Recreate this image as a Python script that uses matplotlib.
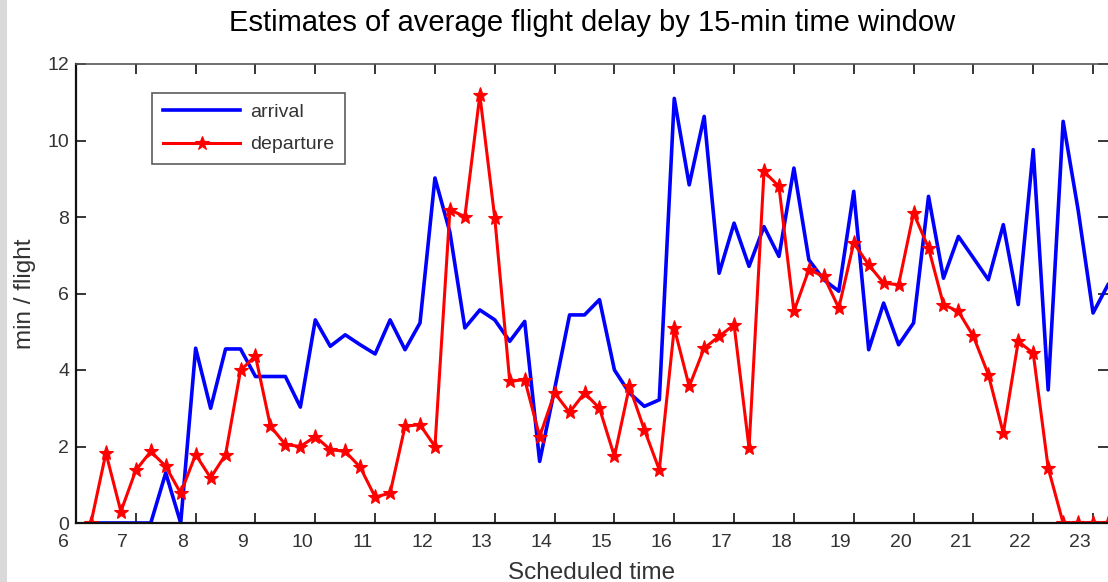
import numpy as np
import matplotlib
matplotlib.use("Agg")
import matplotlib.pyplot as plt
import matplotlib.transforms as mtransforms
from matplotlib.patches import Rectangle

# 15-minute windows, starting at 6:15
start_hour = 6.25
step = 0.25

arrival = [
    0, 0, 0, 0, 0, 1.31, 0, 4.57, 3.0, 4.55, 4.55, 3.83, 3.83, 3.83, 3.03,
    5.31, 4.62, 4.92, 4.66, 4.42, 5.31, 4.53, 5.23, 9.02, 7.6, 5.10, 5.57,
    5.31, 4.75, 5.27, 1.61, 3.5, 5.44, 5.44, 5.84, 4.0, 3.4, 3.05, 3.22,
    11.1, 8.84, 10.63, 6.53, 7.84, 6.71, 7.75, 6.97, 9.28, 6.88, 6.36, 6.06,
    8.67, 4.53, 5.75, 4.66, 5.23, 8.54, 6.40, 7.49, 6.93, 6.36, 7.80, 5.71,
    9.76, 3.48, 10.5, 8.19, 5.49, 6.23,
]

departure = [
    0.0, 1.83, 0.30, 1.38, 1.87, 1.48, 0.78, 1.79, 1.18, 1.79, 3.99, 4.37,
    2.53, 2.05, 2.0, 2.26, 1.92, 1.87, 1.46, 0.68, 0.78, 2.53, 2.57, 2.0,
    8.19, 8.01, 11.19, 7.97, 3.70, 3.75, 2.26, 3.40, 2.89, 3.40, 3.0, 1.74,
    3.57, 2.44, 1.39, 5.10, 3.57, 4.57, 4.88, 5.18, 1.96, 9.19, 8.80, 5.53,
    6.62, 6.45, 5.62, 7.32, 6.75, 6.27, 6.23, 8.10, 7.19, 5.71, 5.53, 4.88,
    3.88, 2.35, 4.75, 4.44, 1.44, 0, 0, 0, 0,
]

hours = list(range(6, 24))
y_ticks = [0, 2, 4, 6, 8, 10, 12]

t_arr = start_hour + step * np.arange(len(arrival))
t_dep = start_hour + step * np.arange(len(departure))

fig = plt.figure(figsize=(11.08, 5.82), dpi=100)
fig.patch.set_facecolor("white")

# grey strip down the left edge of the slide
fig.patches.append(Rectangle((0, 0), 7 / 1108, 1, transform=fig.transFigure,
                             facecolor="#d9d9d9", edgecolor="none", zorder=0))

ax = fig.add_axes([76 / 1108, 59 / 582, 1032 / 1108, 459 / 582])

ax.plot(t_arr, arrival, color="#0000ff", lw=2.6, label="arrival")
ax.plot(t_dep, departure, color="#ff0000", lw=2.2, marker="*",
        markersize=11, markeredgewidth=0.8, label="departure")

ax.set_xlim(6, 23.25)
ax.set_ylim(0, 12)
ax.set_xticks(hours)
ax.set_yticks(y_ticks)

label_font = ["Liberation Sans", "DejaVu Sans"]
ax.tick_params(direction="in", length=7, width=1.1, top=True, right=True,
               labelsize=14, labelcolor="#333333")
ax.tick_params(axis="x", pad=8)
ax.tick_params(axis="y", pad=5)
for lab in ax.get_xticklabels() + ax.get_yticklabels():
    lab.set_family(label_font)

# tick labels sit a little to the left of their tick marks
shift = mtransforms.ScaledTranslation(-13 / 100, 0, fig.dpi_scale_trans)
for lab in ax.get_xticklabels():
    lab.set_transform(lab.get_transform() + shift)

for side in ["left", "bottom"]:
    ax.spines[side].set_linewidth(1.6)
    ax.spines[side].set_color("#111111")
ax.spines["top"].set_linewidth(1.2)
ax.spines["top"].set_color("#555555")
ax.spines["right"].set_visible(False)

ax.set_title("Estimates of average flight delay by 15-min time window",
             fontsize=21, family=label_font, pad=24)
ax.set_xlabel("Scheduled time", fontsize=17.5, family=label_font,
              color="#333333", labelpad=8)
ax.set_ylabel("min / flight", fontsize=17.5, family=label_font,
              color="#333333", labelpad=8)

leg = ax.legend(loc="upper left", bbox_to_anchor=(0.0736, 0.937),
                borderaxespad=0, fancybox=False, handlelength=4,
                handletextpad=0.5, labelspacing=0.75, borderpad=0.55,
                prop={"family": label_font, "size": 14}, markerscale=0.9)
leg.get_frame().set_edgecolor("#333333")
leg.get_frame().set_linewidth(1.2)
for txt in leg.get_texts():
    txt.set_color("#333333")

fig.savefig("out.png", dpi=100)
